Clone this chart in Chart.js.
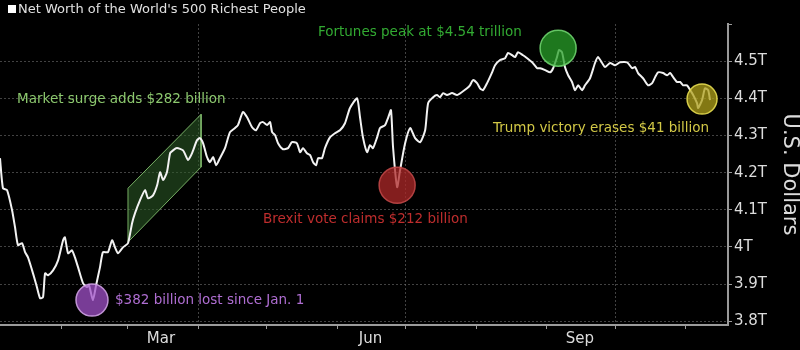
<!DOCTYPE html>
<html>
<head>
<meta charset="utf-8">
<script src="https://cdn.jsdelivr.net/npm/chart.js@4.4.0/dist/chart.umd.min.js"></script>
<style>
  html, body { margin: 0; padding: 0; background: #000; }
  canvas { display: block; }
</style>
</head>
<body>
<canvas id="myChart" width="800" height="350"></canvas>
<script>
// day of year 2016 and net worth in trillions of US dollars
const days = [4.8,6.1,7.9,10.1,11.4,12.7,14.5,15.8,17.1,18.9,20.2,21.0,22.4,23.7,24.6,25.9,28.1,30.3,32.5,33.3,34.7,36.4,37.7,39.1,41.3,43.0,43.9,45.6,47.0,48.7,50.0,52.2,54.0,55.3,56.6,58.8,61.0,62.8,64.1,66.3,68.5,69.8,72.0,73.8,75.1,76.4,78.1,79.5,80.8,82.5,85.2,87.4,89.1,91.3,92.6,94.0,95.7,97.0,98.4,99.7,101.4,103.6,105.8,108.0,109.3,111.5,113.3,115.5,117.2,119.0,120.3,122.1,123.4,124.3,125.6,126.9,129.1,131.3,133.0,135.2,136.6,137.9,139.6,141.0,142.3,143.6,144.5,146.2,147.5,149.7,151.9,154.1,156.3,158.5,161.6,162.9,164.2,166.0,167.3,168.6,170.4,171.7,173.9,175.2,176.5,177.4,179.2,180.5,182.7,184.9,187.1,189.3,191.5,192.8,195.0,196.7,198.0,199.4,201.1,203.3,205.5,207.7,209.9,211.2,212.5,214.3,215.6,216.9,218.7,220.9,222.2,224.4,226.6,227.9,229.7,231.0,232.3,234.5,236.3,238.5,240.7,242.0,244.2,246.4,247.7,249.4,250.3,251.6,252.9,254.3,256.0,257.3,258.7,260.4,261.7,263.9,266.1,267.4,269.2,270.5,272.7,274.9,277.1,280.2,282.4,283.7,285.0,287.2,289.4,291.2,292.5,293.8,296.0,297.8,299.1,300.4,302.1,303.5,304.8,306.5,307.9,309.2,310.9,311.4,313.1,314.4,315.8,316.6];
const netWorth = [4.239,4.158,4.153,4.099,4.053,4.005,4.010,3.986,3.972,3.937,3.910,3.892,3.862,3.865,3.929,3.924,3.937,3.964,4.018,4.026,3.983,3.991,3.972,3.945,3.902,3.892,3.897,3.857,3.897,3.945,3.986,3.986,4.018,3.999,3.983,3.999,4.010,4.064,4.091,4.126,4.153,4.131,4.139,4.166,4.201,4.180,4.201,4.252,4.260,4.266,4.260,4.234,4.252,4.287,4.293,4.279,4.242,4.228,4.242,4.220,4.239,4.266,4.309,4.320,4.328,4.363,4.349,4.322,4.314,4.333,4.336,4.328,4.336,4.309,4.301,4.279,4.263,4.266,4.282,4.279,4.255,4.266,4.252,4.247,4.228,4.220,4.239,4.239,4.266,4.295,4.306,4.314,4.333,4.374,4.400,4.349,4.295,4.255,4.274,4.266,4.295,4.320,4.328,4.347,4.368,4.269,4.161,4.207,4.279,4.320,4.293,4.282,4.314,4.387,4.403,4.409,4.403,4.414,4.409,4.414,4.409,4.417,4.427,4.435,4.449,4.441,4.427,4.422,4.441,4.470,4.489,4.503,4.508,4.522,4.516,4.511,4.524,4.516,4.508,4.497,4.481,4.481,4.476,4.470,4.481,4.511,4.530,4.524,4.484,4.462,4.444,4.422,4.435,4.422,4.435,4.454,4.495,4.511,4.495,4.484,4.495,4.489,4.497,4.497,4.481,4.484,4.468,4.454,4.435,4.441,4.457,4.470,4.468,4.462,4.468,4.457,4.444,4.444,4.435,4.435,4.422,4.409,4.387,4.374,4.395,4.427,4.422,4.395];

// month boundaries and mid-month label positions
const xTickDays   = [32, 61, 75.5, 92, 122, 153, 167.5, 183, 214, 245, 259.5, 275, 306];
const xTickLabels = ['', '', 'Mar', '', '', '', 'Jun', '', '', '', 'Sep', '', ''];
const xGridDays   = [92, 183, 275];

const yTickValues = [3.8,3.85,3.9,3.95,4.0,4.05,4.1,4.15,4.2,4.25,4.3,4.35,4.4,4.45,4.5,4.55,4.6];
const yTickLabels = ['3.8T','','3.9T','','4T','','4.1T','','4.2T','','4.3T','','4.4T','','4.5T','',''];

// highlighted events
const noteDays   = [45.2, 179.2, 249.9, 313.1];
const noteValues = [3.857, 4.166, 4.535, 4.398];
const noteTexts  = ['$382 billion lost since Jan. 1', 'Brexit vote claims $212 billion',
                    'Fortunes peak at $4.54 trillion', 'Trump victory erases $41 billion'];

// market surge band
const bandDays   = [61, 93.1, 93.1, 61, 61];
const bandValues = [4.158, 4.357, 4.215, 4.013, 4.158];
const bandText   = 'Market surge adds $282 billion';

const title = "Net Worth of the World's 500 Richest People";

// styles
const noteFill   = ['rgba(160,80,200,0.75)', 'rgba(175,40,40,0.75)', 'rgba(40,160,40,0.75)', 'rgba(175,160,25,0.75)'];
const noteBorder = ['rgba(205,160,225,0.9)', 'rgba(190,70,70,0.9)', 'rgba(110,210,110,0.9)', 'rgba(230,220,80,0.9)'];
const noteColor  = ['rgb(175,110,210)', 'rgb(190,45,45)', 'rgb(50,170,50)', 'rgb(210,200,70)'];
const noteRadius = [16, 18, 18, 15];
// label anchor (left, middle) in data units
const labelDays   = [55.3, 120.3, 144.4, 221.3, 12.3];
const labelValues = [3.857, 4.073, 4.578, 4.320, 4.398];
const gridColor = 'rgba(120,120,120,0.55)';
const axisColor = '#9a9a9a';
const font = 'DejaVu Sans';

const series = days.map((d, i) => ({x: d, y: netWorth[i]}));
const band = bandDays.map((d, i) => ({x: d, y: bandValues[i]}));
const notes = noteDays.map((d, i) => ({x: d, y: noteValues[i]}));

const annotate = {
    id: 'annotate',
    beforeDraw(chart) {
        const ctx = chart.ctx;
        ctx.save();
        ctx.fillStyle = '#000';
        ctx.fillRect(0, 0, chart.width, chart.height);
        ctx.restore();
    },
    afterDraw(chart) {
        const ctx = chart.ctx;
        const x = chart.scales.x, y = chart.scales.y;
        ctx.save();
        ctx.textBaseline = 'middle';
        ctx.textAlign = 'left';
        ctx.font = '13.5px "' + font + '"';
        const texts = noteTexts.concat([bandText]);
        const colors = noteColor.concat(['rgb(140,200,110)']);
        texts.forEach((t, i) => {
            ctx.fillStyle = colors[i];
            ctx.fillText(t, x.getPixelForValue(labelDays[i]), y.getPixelForValue(labelValues[i]));
        });
        // header
        ctx.fillStyle = '#fff';
        ctx.fillRect(8, 5, 8, 8);
        ctx.fillStyle = '#e0e0e0';
        ctx.font = '13px "' + font + '"';
        ctx.fillText(title, 18, 10);
        ctx.restore();
    }
};

const ctx = document.getElementById('myChart').getContext('2d');
const myChart = new Chart(ctx, {
    type: 'scatter',
    data: {
        datasets: [
            {
                data: notes,
                pointRadius: noteRadius,
                pointBackgroundColor: noteFill,
                pointBorderColor: noteBorder,
                pointBorderWidth: 1.5,
                showLine: false,
                order: 0
            },
            {
                data: series,
                showLine: true,
                borderColor: '#f2f2f2',
                borderWidth: 2,
                pointRadius: 0,
                tension: 0.2,
                order: 1
            },
            {
                data: band,
                showLine: true,
                fill: 'shape',
                backgroundColor: 'rgba(45,95,40,0.55)',
                borderColor: 'rgba(130,190,110,0.9)',
                borderWidth: 1,
                pointRadius: 0,
                tension: 0,
                order: 2
            }
        ]
    },
    options: {
        responsive: false,
        devicePixelRatio: 1,
        animation: false,
        layout: { autoPadding: false, padding: { top: 24, left: 0, right: 0, bottom: 0 } },
        plugins: {
            legend: { display: false },
            tooltip: { enabled: false },
            title: { display: false }
        },
        scales: {
            x: {
                type: 'linear',
                min: 4.8,
                max: 324.5,
                afterFit: s => { s.height = 25; s.paddingLeft = 0; s.paddingRight = 0; },
                afterBuildTicks: s => { s.ticks = xTickDays.map(v => ({value: v})); },
                ticks: {
                    autoSkip: false,
                    maxRotation: 0,
                    padding: 1,
                    color: '#dcdcdc',
                    font: { family: font, size: 15 },
                    callback: (v, i) => xTickLabels[i]
                },
                grid: {
                    color: c => (c.tick && xGridDays.includes(c.tick.value)) ? gridColor : 'transparent',
                    tickColor: c => (c.tick && xTickLabels[c.index] === '') ? axisColor : 'transparent',
                    tickLength: 4,
                    lineWidth: 1
                },
                border: { color: axisColor, width: 2, dash: [2, 2] }
            },
            y: {
                position: 'right',
                min: 3.79,
                max: 4.6,
                afterFit: s => { s.width = 72; s.paddingTop = 0; s.paddingBottom = 0; },
                afterBuildTicks: s => { s.ticks = yTickValues.map(v => ({value: v})); },
                ticks: {
                    padding: 2,
                    color: '#dcdcdc',
                    font: { family: font, size: 15 },
                    callback: (v, i) => yTickLabels[i]
                },
                grid: {
                    color: c => (c.tick && yTickLabels[c.index] !== '') ? gridColor : 'transparent',
                    tickColor: axisColor,
                    tickLength: 4,
                    lineWidth: 1
                },
                border: { color: axisColor, width: 2, dash: [2, 2] },
                title: {
                    display: true,
                    text: 'U.S. Dollars',
                    color: '#dcdcdc',
                    font: { family: font, size: 21, lineHeight: 1 },
                    padding: 0
                }
            }
        }
    },
    plugins: [annotate]
});
</script>
</body>
</html>
